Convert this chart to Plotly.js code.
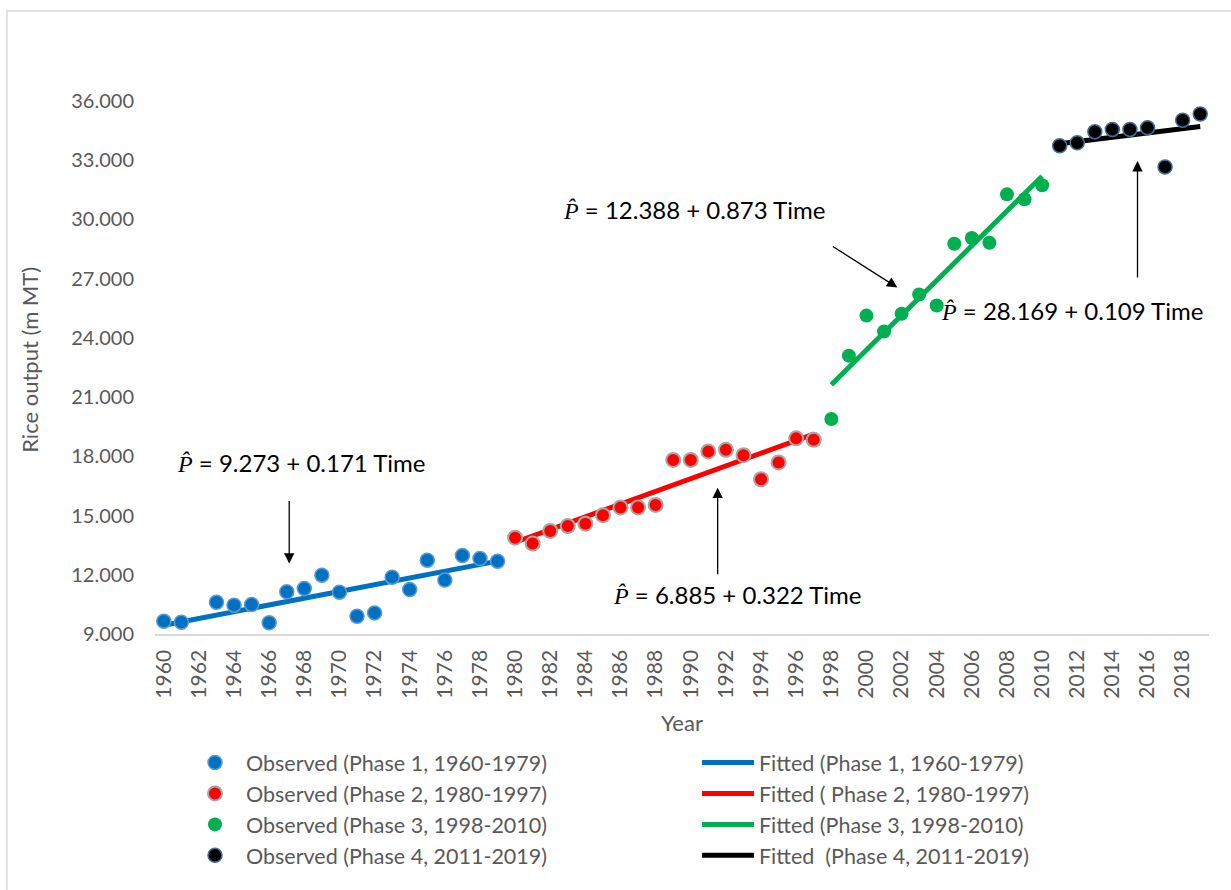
<!DOCTYPE html>
<html>
<head>
<meta charset="utf-8">
<script src="https://cdn.plot.ly/plotly-3.0.1.min.js"></script>
<style>html,body{margin:0;padding:0;background:#fff;}#chart{width:1231px;height:890px;}</style>
</head>
<body>
<div id="chart"></div>
<script>
// Observed data (million MT)
const years1 = [1960,1961,1963,1964,1965,1966,1967,1968,1969,1970,1971,1972,1973,1974,1975,1976,1977,1978,1979];
const obs1   = [9.65,9.60,10.61,10.46,10.49,9.57,11.14,11.30,11.98,11.12,9.90,10.07,11.88,11.25,12.74,11.73,12.98,12.82,12.69];
const years2 = [1980,1981,1982,1983,1984,1985,1986,1987,1988,1989,1990,1991,1992,1993,1994,1995,1996,1997];
const obs2   = [13.88,13.58,14.22,14.47,14.59,15.02,15.41,15.41,15.54,17.82,17.82,18.25,18.33,18.06,16.84,17.69,18.91,18.84];
const years3 = [1998,1999,2000,2001,2002,2003,2004,2005,2006,2007,2008,2009,2010];
const obs3   = [19.89,23.10,25.13,24.32,25.22,26.20,25.64,28.77,29.06,28.82,31.27,31.02,31.73];
const years4 = [2011,2012,2013,2014,2015,2016,2017,2018,2019];
const obs4   = [33.73,33.88,34.44,34.56,34.56,34.64,32.66,35.03,35.34];

// Fitted line end points
const fitYears1 = [1960,1979]; const fit1 = [9.444,12.693];
const fitYears2 = [1980,1997]; const fit2 = [13.647,19.121];
const fitYears3 = [1998,2010]; const fit3 = [21.63,32.19];
const fitYears4 = [2011,2019]; const fit4 = [33.837,34.709];

const obsNames = ['Observed (Phase 1, 1960-1979)','Observed (Phase 2, 1980-1997)','Observed (Phase 3, 1998-2010)','Observed (Phase 4, 2011-2019)'];
const fitNames = ['Fitted (Phase 1, 1960-1979)','Fitted ( Phase 2, 1980-1997)','Fitted (Phase 3, 1998-2010)','Fitted  (Phase 4, 2011-2019)'];
const equations = ['9.273 + 0.171 Time','6.885 + 0.322 Time','12.388 + 0.873 Time','28.169 + 0.109 Time'];
const yTitle = 'Rice output (m MT)';

const FONT = 'Lato, "Open Sans", sans-serif';
const GRAY = '#595959';

const fitX = [fitYears1,fitYears2,fitYears3,fitYears4];
const fitY = [fit1,fit2,fit3,fit4];
const fitColors = ['#0070C0','#FF0000','#00B050','#000000'];
const obsX = [years1,years2,years3,years4];
const obsY = [obs1,obs2,obs3,obs4];
const obsFill = ['#0070C0','#FF0000','#00B050','#000000'];
const obsLine = ['#5B9BD5','#A6A6A6','#00B050','#41719C'];
const obsLineW = [1.5,2,0,1.5];

const traces = [];
for (let i=0;i<4;i++){
  traces.push({x:fitX[i], y:fitY[i], type:'scatter', mode:'lines', name:fitNames[i],
    line:{color:fitColors[i], width:5}, legend:'legend2', legendgroup:'f'+i, hoverinfo:'skip'});
}
for (let i=0;i<4;i++){
  traces.push({x:obsX[i], y:obsY[i], type:'scatter', mode:'markers', name:obsNames[i],
    marker:{size:14, color:obsFill[i], line:{color:obsLine[i], width:obsLineW[i]}}, legend:'legend', legendgroup:'o'+i});
}

const L=155, R=22, T=101, B=255.5;

const eqPos = [[1967.79,17.68],[1992.63,11.0],[1990.18,30.52],[2011.68,25.40]];
const annotations = [];
for (let i=0;i<4;i++){
  annotations.push({x:eqPos[i][0], y:eqPos[i][1], xref:'x', yref:'y', showarrow:false,
    xanchor:'center', yanchor:'middle',
    text:'<span style="font-family:\'Liberation Serif\'"><i>P̂</i></span> = '+equations[i],
    font:{family:FONT, size:24, color:'#000'}});
}
const arrows = [[1967.14,12.57,0,-64],[1991.53,16.41,0,88],[2001.76,26.55,-66,-42],[2015.43,32.96,0,118]];
for (const a of arrows){
  annotations.push({x:a[0], y:a[1], xref:'x', yref:'y', ax:a[2], ay:a[3], text:'', showarrow:true,
    arrowhead:2, arrowsize:1.6, arrowwidth:1.3, arrowcolor:'#000', standoff:0});
}
// y-axis title
annotations.push({xref:'paper', yref:'paper', x:(30-L)/1054, y:(634.5-360)/533.5, showarrow:false,
  xanchor:'center', yanchor:'middle', textangle:-90, text:yTitle, font:{family:FONT, size:22, color:GRAY}});

const layout = {
  width:1231, height:890,
  margin:{l:L, r:R, t:T, b:B, pad:0, autoexpand:false},
  paper_bgcolor:'#fff', plot_bgcolor:'#fff',
  font:{family:FONT, color:GRAY, size:20},
  showlegend:true,
  xaxis:{range:[1959.5,2019.5], tick0:1960, dtick:2, tickangle:-90, tickformat:'d',
    showgrid:false, zeroline:false, showline:true, linecolor:'#D9D9D9', linewidth:1.5,
    ticks:'', tickfont:{size:21, color:GRAY}, ticklabelstandoff:6,
    title:{text:'Year', font:{size:22, color:GRAY}, standoff:18}},
  yaxis:{range:[9,36], dtick:3, tick0:9, tickformat:'.3f', showgrid:false, zeroline:false, showline:false,
    ticks:'', tickfont:{size:20, color:GRAY}, ticklabelstandoff:20},
  legend:{xref:'container', yref:'container', x:184/1231, y:1-742/890, xanchor:'left', yanchor:'top',
    orientation:'v', itemwidth:52, font:{size:21.5, color:GRAY}, bgcolor:'rgba(0,0,0,0)', borderwidth:0,
    tracegroupgap:0, itemclick:false},
  legend2:{xref:'container', yref:'container', x:697/1231, y:1-742/890, xanchor:'left', yanchor:'top',
    orientation:'v', itemwidth:52, font:{size:21.5, color:GRAY}, bgcolor:'rgba(0,0,0,0)', borderwidth:0,
    tracegroupgap:0, itemclick:false},
  annotations:annotations,
  shapes:[{type:'rect', xref:'paper', yref:'paper', x0:(7-L)/1054, x1:(1245-L)/1054,
    y0:(634.5-900)/533.5, y1:(634.5-11)/533.5, line:{color:'#D9D9D9', width:1.5}, fillcolor:'rgba(0,0,0,0)', layer:'below'}]
};

Plotly.newPlot('chart', traces, layout, {displayModeBar:false, staticPlot:true});
</script>
</body>
</html>
